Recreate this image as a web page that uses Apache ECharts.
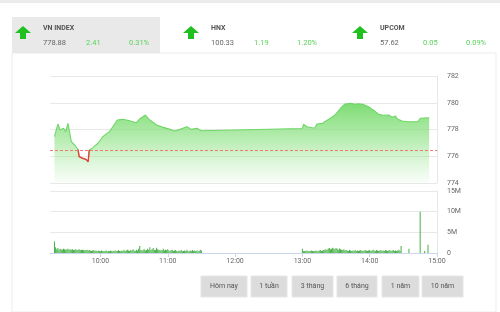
<!DOCTYPE html>
<html><head><meta charset="utf-8">
<script src="https://cdn.jsdelivr.net/npm/echarts@6/dist/echarts.min.js"></script>
<style>html,body{margin:0;padding:0;background:#fff}#c{width:500px;height:312px}</style>
</head><body><div id="c"></div>
<script>
// ---- data ----
const indexNames = ['VN INDEX', 'HNX', 'UPCOM'];
const indexValues = ['778.88', '100.33', '57.62'];
const indexChanges = ['2.41', '1.19', '0.05'];
const indexPercents = ['0.31%', '1.20%', '0.09%'];
const refPrice = 776.47;

const priceTimes = ['09:19','09:22','09:24','09:27','09:29','09:31','09:34','09:37','09:40','09:41','09:44','09:47','09:49','09:50','09:53','09:58','10:02','10:08','10:11','10:15','10:20','10:26','10:32','10:35','10:40','10:44','10:50','10:56','11:02','11:06','11:11','11:17','11:21','11:26','11:30',
  '13:00','13:01','13:04','13:09','13:11','13:13','13:18','13:20','13:25','13:29','13:34','13:38','13:43','13:47','13:50','13:54','13:59','14:03','14:08','14:12','14:17','14:20','14:23','14:25','14:29','14:34','14:43','14:45','14:53'];
const priceValues = [777.46,778.41,777.96,778.09,777.84,778.46,777.09,776.84,776.50,775.97,775.85,775.77,775.59,776.47,776.62,776.99,777.46,777.84,778.21,778.71,778.76,778.66,778.51,778.79,779.08,778.71,778.34,778.16,778.01,777.89,778.01,778.21,778.01,778.09,777.91,
  778.08,778.39,778.21,778.13,778.11,778.41,778.46,778.58,778.84,779.08,779.59,779.91,779.96,779.88,779.93,779.88,779.70,779.46,779.14,779.06,779.08,778.91,779.01,778.76,778.64,778.58,778.58,778.84,778.88];

const volMorningStart = '09:19';
const volMorning = [2.8,
  1.4,0.9,1.2,0.8,1.0,
  0.9,0.8,1.0,0.9,0.8,0.9,1.0,0.8,0.9,0.8,
  0.9,0.7,0.8,0.9,0.7,0.8,0.9,0.7,0.8,0.7,
  0.8,0.6,0.7,0.8,0.6,0.7,0.6,0.5,0.6,0.7,
  0.5,0.6,0.5,0.6,0.5,0.4,0.6,0.5,0.4,0.5,
  0.6,0.4,0.5,0.4,0.6,0.5,0.4,0.5,0.6,0.4,
  0.5,0.7,0.5,0.4,0.6,0.5,0.7,0.5,0.6,0.8,
  0.6,0.5,0.7,0.6,0.9,0.6,0.5,0.8,0.6,1.0,
  1.7,0.7,0.6,0.8,0.9,0.6,0.7,1.0,0.8,1.4,
  0.7,0.9,1.2,0.8,0.7,1.3,0.9,0.7,0.8,0.6,
  0.7,1.0,0.6,0.8,0.7,0.9,0.6,0.5,0.7,0.8,
  0.5,0.6,0.7,0.5,0.4,0.6,0.5,0.7,0.4,0.5,
  0.6,0.5,0.8,0.5,0.4,0.6,0.5,0.7,0.5,0.6,
  0.5,0.6,0.4,0.5,0.8,0.6];
const volAfternoonStart = '13:00';
const volAfternoon = [
  1.0,0.4,0.5,0.4,0.6,0.5,0.4,0.5,0.6,0.5,
  0.4,0.5,0.6,0.5,0.4,0.6,0.7,0.5,0.6,0.7,
  0.8,0.9,0.7,1.1,1.2,0.9,1.0,1.3,1.1,0.9,
  1.2,1.0,0.8,1.1,0.9,0.8,0.7,0.9,0.6,0.7,
  0.6,0.5,0.7,0.6,0.5,0.6,0.5,0.7,0.5,0.6,
  0.5,0.6,0.7,0.5,0.6,0.5,0.7,0.6,0.5,0.6,
  0.7,0.5,0.6,0.8,0.6,0.5,0.7,0.6,0.5,0.6,
  0.7,0.5,0.6,0.5,0.7,0.6,0.5,0.6,0.7,0.5,
  0.6,0.7,0.5,0.6,0.5,0.6,0.8,0.5,1.7];
const volExtraTimes = ['14:35','14:45','14:49','14:52'];
const volExtraValues = [1.0, 10.0, 0.5, 2.0];

const xTickTimes = ['10:00','11:00','12:00','13:00','14:00','15:00'];
const axisStart = '09:15', axisEnd = '15:00';
const priceTicks = [774, 776, 778, 780, 782];
const volTicks = [0, 5, 10, 15];
const buttons = ['Hôm nay', '1 tuần', '3 tháng', '6 tháng', '1 năm', '10 năm'];

// ---- helpers ----
const toMin = s => { const p = s.split(':'); return (+p[0]) * 60 + (+p[1]); };
const fmtMin = m => String(Math.floor(m / 60)).padStart(2, '0') + ':' + String(m % 60).padStart(2, '0');

const priceData = priceTimes.map((t, i) => [toMin(t), priceValues[i]]);
// red segment: points below reference, plus one neighbour on each side
const below = priceValues.map((v, i) => v < refPrice ? i : -1).filter(i => i >= 0);
const redData = priceData.map((p, i) => (i >= below[0] - 1 && i <= below[below.length - 1] + 1) ? p : [p[0], null]);

const volData = [];
volMorning.forEach((v, i) => volData.push([toMin(volMorningStart) + i, v]));
volAfternoon.forEach((v, i) => volData.push([toMin(volAfternoonStart) + i, v]));
volExtraTimes.forEach((t, i) => volData.push([toMin(t), volExtraValues[i]]));

const FONT = 'Roboto, "Open Sans", sans-serif';
const green = '#5bd35b';

// ---- header / buttons graphics ----
const graphic = [];
graphic.push({ type: 'rect', shape: { x: 0, y: 0, width: 500, height: 3 }, style: { fill: '#ebebeb' }, silent: true });
graphic.push({ type: 'rect', shape: { x: 12, y: 53, width: 484, height: 259 }, style: { fill: 'none', stroke: '#ececec', lineWidth: 1 }, silent: true });
graphic.push({ type: 'rect', shape: { x: 12, y: 17, width: 148, height: 36 }, style: { fill: '#e9e9e9' }, silent: true });
const colX = [15, 183, 352];
indexNames.forEach((n, i) => {
  const ax = colX[i];
  graphic.push({ type: 'polygon', shape: { points: [[ax + 8, 26], [ax + 16, 33], [ax + 11, 33], [ax + 11, 39], [ax + 5, 39], [ax + 5, 33], [ax, 33]] }, style: { fill: '#1fc01f' }, silent: true });
  const tx = ax + 28;
  graphic.push({ type: 'text', style: { x: tx, y: 28, text: n, fill: '#555', font: 'bold 7px ' + FONT, textVerticalAlign: 'middle' }, silent: true });
  graphic.push({ type: 'text', style: { x: tx, y: 43, text: indexValues[i], fill: '#666', font: '7.5px ' + FONT, textVerticalAlign: 'middle' }, silent: true });
  graphic.push({ type: 'text', style: { x: tx + 43, y: 43, text: indexChanges[i], fill: green, font: '7.5px ' + FONT, textVerticalAlign: 'middle' }, silent: true });
  graphic.push({ type: 'text', style: { x: tx + 86, y: 43, text: indexPercents[i], fill: green, font: '7.5px ' + FONT, textVerticalAlign: 'middle' }, silent: true });
});
const btnX = [201, 251, 292, 337, 382, 422];
const btnW = [46, 36, 41, 40, 37, 41];
buttons.forEach((b, i) => {
  graphic.push({ type: 'rect', shape: { x: btnX[i], y: 276, width: btnW[i], height: 21 }, style: { fill: '#dcdcdc', stroke: '#e6e6e6' }, silent: true });
  graphic.push({ type: 'text', style: { x: btnX[i] + btnW[i] / 2, y: 286.5, text: b, fill: '#555', font: '7px ' + FONT, textAlign: 'center', textVerticalAlign: 'middle' }, silent: true });
});

const chart = echarts.init(document.getElementById('c'), null, { renderer: 'canvas' });
const axisLabelStyle = { color: '#666', fontSize: 7, fontFamily: FONT };
chart.setOption({
  animation: false,
  backgroundColor: '#fff',
  graphic: graphic,
  grid: [
    { left: 50, right: 63, top: 76, height: 107 },
    { left: 50, right: 63, top: 191, height: 62 }
  ],
  xAxis: [
    { gridIndex: 0, type: 'value', min: toMin(axisStart), max: toMin(axisEnd), axisLine: { show: false }, axisTick: { show: false }, axisLabel: { show: false }, splitLine: { show: false } },
    { gridIndex: 1, type: 'value', min: toMin(axisStart), max: toMin(axisEnd),
      axisLine: { show: true, lineStyle: { color: '#ccd6eb' } },
      axisTick: { show: true, customValues: xTickTimes.map(toMin), length: 4, lineStyle: { color: '#ccd6eb' } },
      axisLabel: Object.assign({ customValues: xTickTimes.map(toMin), formatter: v => fmtMin(v), margin: 5 }, axisLabelStyle),
      splitLine: { show: false } }
  ],
  yAxis: [
    { gridIndex: 0, type: 'value', position: 'right', min: priceTicks[0], max: priceTicks[priceTicks.length - 1], interval: 2,
      axisLine: { show: true, lineStyle: { color: '#e3e8ef' } }, axisTick: { show: false },
      axisLabel: Object.assign({ margin: 10 }, axisLabelStyle),
      splitLine: { lineStyle: { color: '#e8e8e8' } } },
    { gridIndex: 1, type: 'value', position: 'right', min: volTicks[0], max: volTicks[volTicks.length - 1], interval: 5,
      axisLine: { show: true, lineStyle: { color: '#e3e8ef' } }, axisTick: { show: false },
      axisLabel: Object.assign({ margin: 10, formatter: v => v === 0 ? '0' : v + 'M' }, axisLabelStyle),
      splitLine: { lineStyle: { color: '#e8e8e8' } } }
  ],
  series: [
    { type: 'line', xAxisIndex: 0, yAxisIndex: 0, data: priceData, showSymbol: false, symbol: 'none',
      lineStyle: { width: 1.1, color: '#6fd768' },
      areaStyle: { origin: 'start', opacity: 1, color: new echarts.graphic.LinearGradient(0, 0, 0, 1, [
        { offset: 0, color: 'rgba(118,218,108,0.95)' },
        { offset: 0.45, color: 'rgba(135,224,125,0.6)' },
        { offset: 1, color: 'rgba(160,232,150,0.06)' }]) },
      markLine: { silent: true, symbol: 'none', label: { show: false },
        lineStyle: { color: '#f07a70', type: [3, 2], width: 1 },
        data: [{ yAxis: refPrice }] } },
    { type: 'line', xAxisIndex: 0, yAxisIndex: 0, data: redData, showSymbol: false, symbol: 'none', connectNulls: false,
      lineStyle: { width: 1.4, color: '#e8403a' }, z: 3 },
    { type: 'bar', xAxisIndex: 1, yAxisIndex: 1, data: volData, barWidth: 1, itemStyle: { color: '#45b045' } }
  ]
});
</script></body></html>
